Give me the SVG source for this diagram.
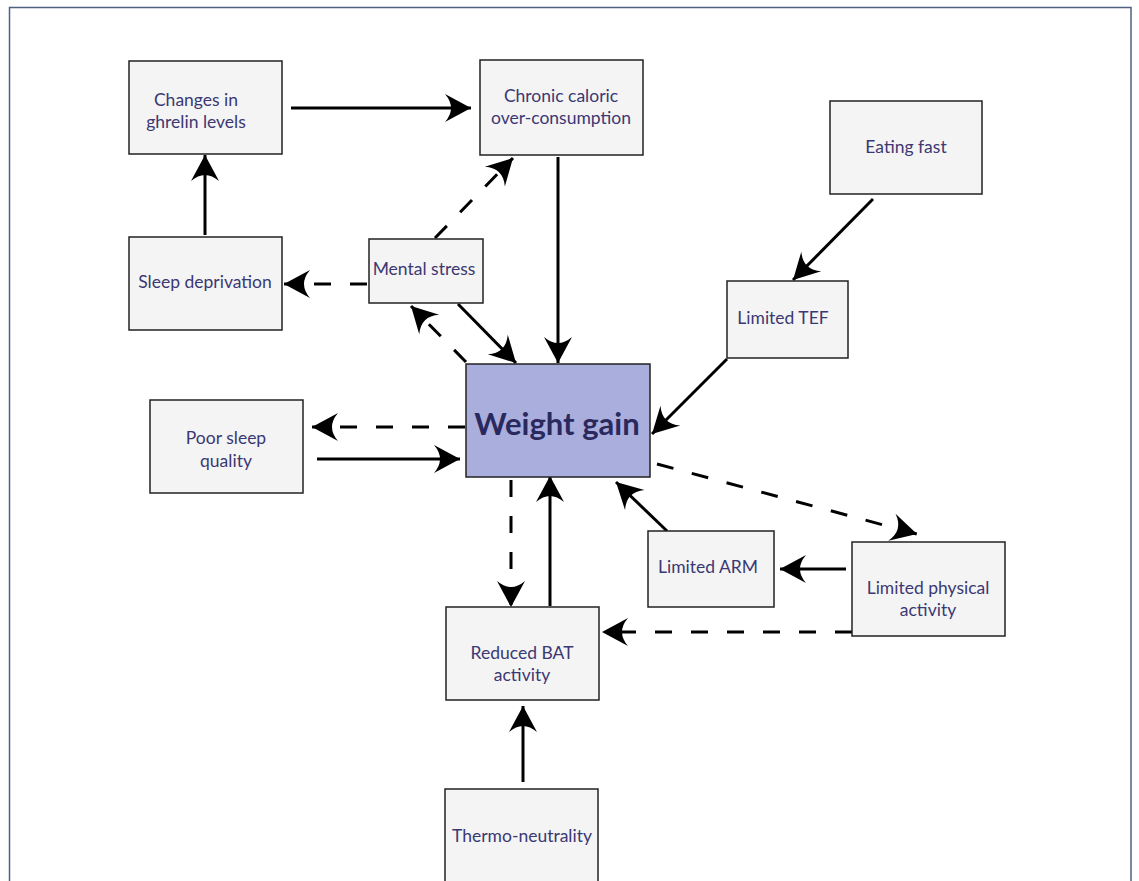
<svg xmlns="http://www.w3.org/2000/svg" width="1139" height="881" viewBox="0 0 1139 881">
<style>
.box{fill:#f4f4f4;stroke:#222;stroke-width:1.5}
.main{fill:#aaaedc;stroke:#222;stroke-width:1.5}
.t{font-family:Lato,"Open Sans","DejaVu Sans",sans-serif;font-size:17.5px;fill:#3b3873;text-anchor:middle}
.big{font-family:Lato,"Open Sans","DejaVu Sans",sans-serif;font-size:31px;font-weight:bold;fill:#2a295e;text-anchor:middle}
.c{stroke:#000;stroke-width:3;fill:none;marker-end:url(#ah)}
.d{stroke-dasharray:17 19}
</style>
<defs>
<marker id="ah" markerUnits="userSpaceOnUse" viewBox="-28 -16 30 32" refX="0" refY="0" markerWidth="30" markerHeight="32" orient="auto">
<path d="M0,0 L-26,-14 Q-14,0 -26,14 Z" fill="#000"/>
</marker>
</defs>
<rect x="9.5" y="7.5" width="1121.5" height="900" fill="#fff" stroke="#4f6080" stroke-width="1.5"/>
<g id="connectors">
<line class="c" x1="291" y1="108" x2="471" y2="108"/>
<line class="c" x1="205" y1="235" x2="205" y2="155"/>
<line class="c" x1="558" y1="157" x2="558" y2="363"/>
<line class="c d" x1="435" y1="238" x2="513" y2="158"/>
<line class="c d" x1="367" y1="284" x2="284" y2="284"/>
<line class="c" x1="458" y1="304" x2="516" y2="363"/>
<line class="c d" x1="466" y1="362" x2="411" y2="306"/>
<line class="c" x1="873" y1="199" x2="793" y2="280"/>
<line class="c" x1="727" y1="359" x2="652" y2="434"/>
<line class="c d" x1="465" y1="427" x2="312" y2="427"/>
<line class="c" x1="317" y1="459" x2="460" y2="459"/>
<line class="c d" x1="511" y1="480" x2="511" y2="607"/>
<line class="c" x1="550" y1="606" x2="550" y2="476"/>
<line class="c d" x1="657" y1="464" x2="917" y2="534"/>
<line class="c" x1="667" y1="531" x2="616" y2="482"/>
<line class="c" x1="846" y1="569" x2="780" y2="569"/>
<line class="c d" x1="852" y1="632" x2="602" y2="632"/>
<line class="c" x1="523" y1="782" x2="523" y2="706"/>
</g>
<g id="n-ghrelin"><rect class="box" x="129" y="61" width="153" height="93"/><text class="t" x="196" y="106">Changes in</text><text class="t" x="196" y="128">ghrelin levels</text></g>
<g id="n-chronic"><rect class="box" x="480" y="60" width="163" height="95"/><text class="t" x="561" y="102">Chronic caloric</text><text class="t" x="561" y="124">over-consumption</text></g>
<g id="n-eating"><rect class="box" x="830" y="101" width="152" height="93"/><text class="t" x="906" y="153">Eating fast</text></g>
<g id="n-sleepdep"><rect class="box" x="129" y="237" width="153" height="93"/><text class="t" x="205" y="288">Sleep deprivation</text></g>
<g id="n-stress"><rect class="box" x="369" y="239" width="114" height="64"/><text class="t" x="424" y="275">Mental stress</text></g>
<g id="n-tef"><rect class="box" x="727" y="281" width="121" height="77"/><text class="t" x="783" y="324">Limited TEF</text></g>
<g id="n-weight"><rect class="main" x="466" y="364" width="184" height="113"/><text class="big" x="557" y="435">Weight gain</text></g>
<g id="n-poorsleep"><rect class="box" x="150" y="400" width="153" height="93"/><text class="t" x="226" y="444">Poor sleep</text><text class="t" x="226" y="467">quality</text></g>
<g id="n-arm"><rect class="box" x="648" y="531" width="126" height="76"/><text class="t" x="708" y="573">Limited ARM</text></g>
<g id="n-physical"><rect class="box" x="852" y="542" width="153" height="94"/><text class="t" x="928" y="594">Limited physical</text><text class="t" x="928" y="616">activity</text></g>
<g id="n-bat"><rect class="box" x="446" y="607" width="153" height="93"/><text class="t" x="522" y="659">Reduced BAT</text><text class="t" x="522" y="681">activity</text></g>
<g id="n-thermo"><rect class="box" x="445" y="789" width="153" height="120"/><text class="t" x="522" y="842">Thermo-neutrality</text></g>
</svg>
